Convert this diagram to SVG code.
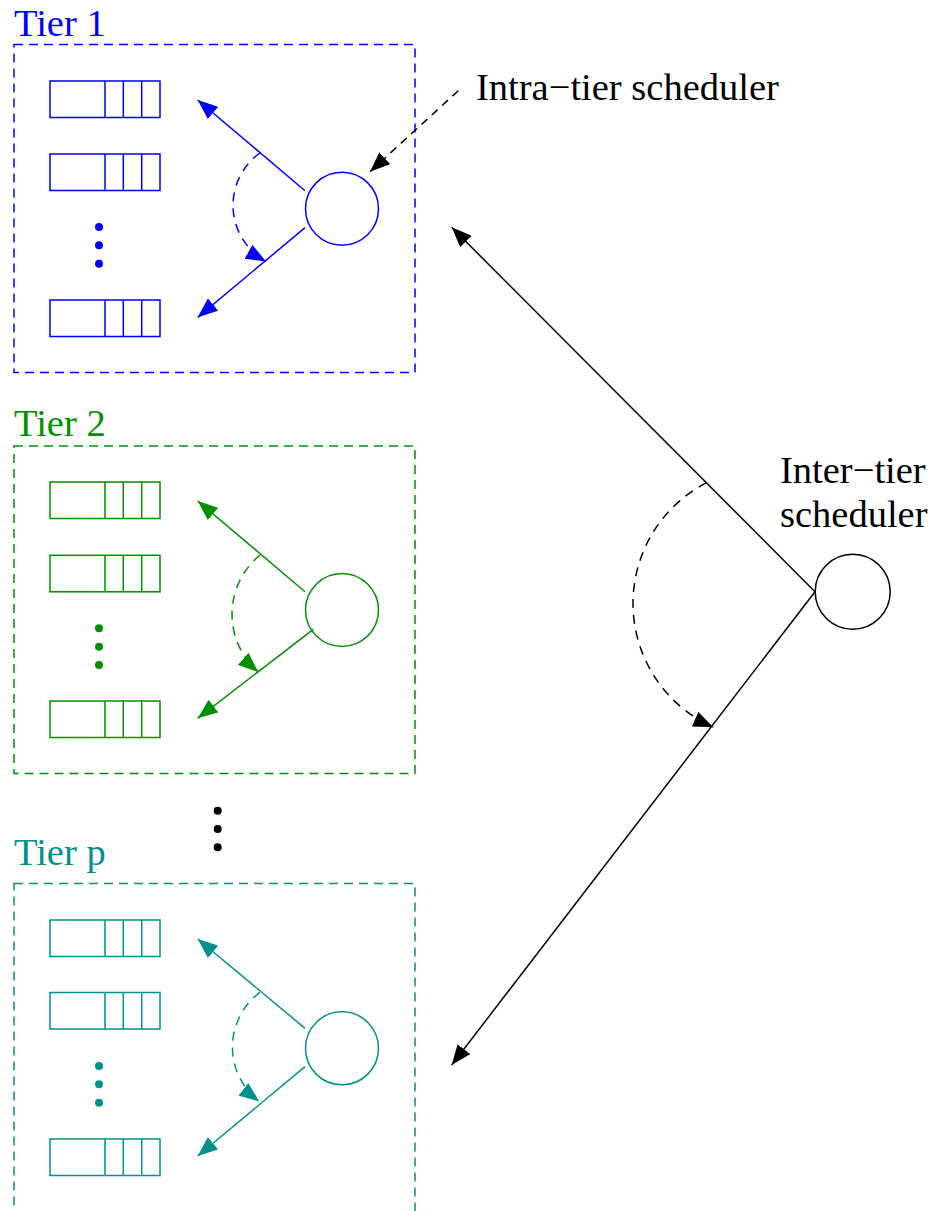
<svg xmlns="http://www.w3.org/2000/svg" width="943" height="1211" viewBox="0 0 943 1211">
<style>
.lbl{font-family:"Liberation Serif","Times New Roman",serif;font-size:38.5px}
.box{fill:none;stroke-width:1.5;stroke-dasharray:9 6}
.q{fill:none;stroke-width:1.5}
.sch{fill:none;stroke-width:1.5}
.ln{fill:none;stroke-width:1.5}
.arc{fill:none;stroke-width:1.5;stroke-dasharray:9 7}
.b{stroke:#0000ff}.g{stroke:#009000}.t{stroke:#009090}.k{stroke:#000}
</style>
<defs>
<marker id="ab" markerUnits="userSpaceOnUse" viewBox="0 0 20 16" refX="20" refY="8" markerWidth="20" markerHeight="16" orient="auto"><path d="M0,0 L20,8 L0,16 z" fill="#0000ff"/></marker>
<marker id="ag" markerUnits="userSpaceOnUse" viewBox="0 0 20 16" refX="20" refY="8" markerWidth="20" markerHeight="16" orient="auto"><path d="M0,0 L20,8 L0,16 z" fill="#009000"/></marker>
<marker id="at" markerUnits="userSpaceOnUse" viewBox="0 0 20 16" refX="20" refY="8" markerWidth="20" markerHeight="16" orient="auto"><path d="M0,0 L20,8 L0,16 z" fill="#009090"/></marker>
<marker id="ak" markerUnits="userSpaceOnUse" viewBox="0 0 20 16" refX="20" refY="8" markerWidth="20" markerHeight="16" orient="auto"><path d="M0,0 L20,8 L0,16 z" fill="#000"/></marker>
<g id="queue">
<rect x="50" y="0" width="110" height="36.5"/>
<line x1="105" y1="0" x2="105" y2="36.5"/>
<line x1="123.3" y1="0" x2="123.3" y2="36.5"/>
<line x1="141.7" y1="0" x2="141.7" y2="36.5"/>
</g>
</defs>
<rect width="943" height="1211" fill="#fff"/>

<g id="tier1">
<text class="lbl" x="14" y="36" fill="#0000ff">Tier 1</text>
<rect class="box b" x="14" y="44.5" width="401" height="328"/>
<g class="q b"><use href="#queue" y="81"/><use href="#queue" y="154"/><use href="#queue" y="300"/></g>
<g fill="#0000ff"><circle cx="99" cy="227" r="4"/><circle cx="99" cy="245.3" r="4"/><circle cx="99" cy="263.7" r="4"/></g>
</g>
<g id="sched1"><circle class="sch b" cx="342" cy="208.7" r="36.5"/></g>

<g id="tier2">
<text class="lbl" x="14" y="436" fill="#009000">Tier 2</text>
<rect class="box g" x="14" y="446" width="401" height="327.5"/>
<g class="q g"><use href="#queue" y="482"/><use href="#queue" y="555.3"/><use href="#queue" y="701"/></g>
<g fill="#009000"><circle cx="99" cy="628.3" r="4"/><circle cx="99" cy="646.7" r="4"/><circle cx="99" cy="665" r="4"/></g>
</g>
<g id="sched2"><circle class="sch g" cx="342" cy="610" r="36.5"/></g>

<g id="tierdots" fill="#000"><circle cx="217.7" cy="810.7" r="4"/><circle cx="217.7" cy="829" r="4"/><circle cx="217.7" cy="847.3" r="4"/></g>

<g id="tierp">
<text class="lbl" x="14" y="865" fill="#009090">Tier p</text>
<rect class="box t" x="14" y="883.5" width="401" height="345"/>
<g class="q t"><use href="#queue" y="920"/><use href="#queue" y="992.5"/><use href="#queue" y="1139"/></g>
<g fill="#009090"><circle cx="99" cy="1066" r="4"/><circle cx="99" cy="1084.3" r="4"/><circle cx="99" cy="1102.7" r="4"/></g>
</g>
<g id="schedp"><circle class="sch t" cx="342" cy="1048.3" r="36.5"/></g>

<g id="inter">
<circle class="sch k" cx="852.7" cy="591.7" r="37.5"/>
<text class="lbl" x="780" y="483" fill="#000">Inter−tier</text>
<text class="lbl" x="780" y="527" fill="#000">scheduler</text>
</g>

<g id="intra-label">
<text class="lbl" x="476" y="100" fill="#000">Intra−tier scheduler</text>
</g>

<g id="connectors">
<line class="ln b" x1="305" y1="190.7" x2="197.7" y2="100" marker-end="url(#ab)"/>
<line class="ln b" x1="305" y1="227.7" x2="197.7" y2="317.3" marker-end="url(#ab)"/>
<path class="arc b" d="M260,153 A64.3,64.3 0 0 0 266,261.5" marker-end="url(#ab)"/>
<line class="ln g" x1="305" y1="591.7" x2="197.7" y2="501" marker-end="url(#ag)"/>
<line class="ln g" x1="313.3" y1="629.3" x2="197.7" y2="718.3" marker-end="url(#ag)"/>
<path class="arc g" d="M260,555 A76.7,76.7 0 0 0 258.3,672" marker-end="url(#ag)"/>
<line class="ln t" x1="305" y1="1028.3" x2="197.7" y2="939" marker-end="url(#at)"/>
<line class="ln t" x1="305" y1="1066.7" x2="197.7" y2="1156" marker-end="url(#at)"/>
<path class="arc t" d="M260,992.3 A68.4,68.4 0 0 0 259.3,1101.5" marker-end="url(#at)"/>
<line class="ln k" x1="458.3" y1="90.7" x2="370" y2="171.7" stroke-dasharray="8 6" marker-end="url(#ak)"/>
<line class="ln k" x1="815" y1="591.7" x2="451.7" y2="227.3" marker-end="url(#ak)"/>
<line class="ln k" x1="815" y1="591.7" x2="451.7" y2="1065" marker-end="url(#ak)"/>
<path class="arc k" d="M706.5,482.7 A135.8,135.8 0 0 0 713.3,727.3" marker-end="url(#ak)"/>
</g>
</svg>
